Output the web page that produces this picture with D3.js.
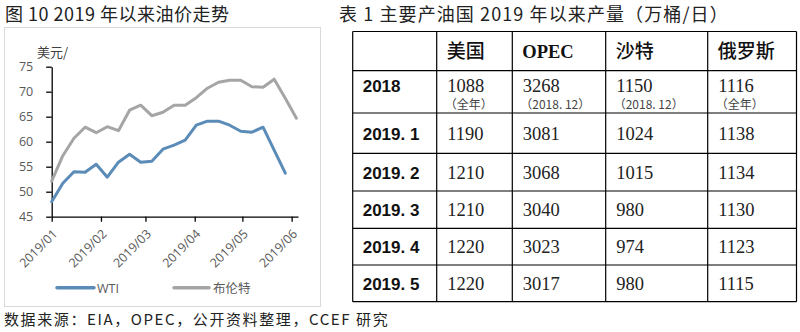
<!DOCTYPE html>
<html><head><meta charset="utf-8">
<script src="https://cdn.jsdelivr.net/npm/d3@7"></script>
<style>
html,body{margin:0;padding:0;background:#fff;}
svg{display:block;}
</style>
</head><body>
<svg id="c" width="800" height="332"></svg>
<script>
// ---------- data ----------
const weekDates = ["2019-01-01","2019-01-08","2019-01-15","2019-01-22","2019-01-29","2019-02-05","2019-02-12","2019-02-19","2019-02-26","2019-03-05","2019-03-12","2019-03-19","2019-03-26","2019-04-02","2019-04-09","2019-04-16","2019-04-23","2019-04-30","2019-05-07","2019-05-14","2019-05-21","2019-05-28","2019-06-04"];
const wti   = [48.0,51.7,54.0,53.9,55.5,52.9,55.9,57.5,55.9,56.1,58.5,59.3,60.3,63.3,64.1,64.1,63.3,62.1,61.9,62.9,58.3,53.7];
const brent = [52.1,57.2,60.7,62.9,61.8,63.0,62.2,66.3,67.3,65.2,65.9,67.3,67.3,68.8,70.7,71.9,72.3,72.3,71.0,70.9,72.5,68.7,64.7];
const yTicks = [45,50,55,60,65,70,75];
const xTickLabels = ["2019/01","2019/02","2019/03","2019/04","2019/05","2019/06"];
const seriesNames = ["WTI","布伦特"];

const tableCols = ["","美国","OPEC","沙特","俄罗斯"];
const tableRows = ["2018","2019. 1","2019. 2","2019. 3","2019. 4","2019. 5"];
const usProd    = [1088,1190,1210,1210,1220,1220];
const opecProd  = [3268,3081,3068,3040,3023,3017];
const saudiProd = [1150,1024,1015,980,974,980];
const russiaProd= [1116,1138,1134,1130,1123,1115];
const notes2018 = ["（全年）","（2018. 12）","（2018. 12）","（全年）"];

// ---------- layout ----------
const svg = d3.select("#c");
const parse = d3.timeParse("%Y-%m-%d");
const dates = weekDates.map(parse);
const CJK = "'Noto Sans CJK SC','Noto Sans',sans-serif";
const LAT = "'Open Sans','Noto Sans',sans-serif";

svg.append("rect").attr("width",800).attr("height",332).attr("fill","#fff");

// titles
svg.append("text").attr("x",5).attr("y",21).attr("font-family",CJK).attr("font-size",18)
  .attr("letter-spacing",0.5).attr("fill","#222").text("图 10 2019 年以来油价走势");
svg.append("text").attr("x",339).attr("y",21).attr("font-family",CJK).attr("font-size",18)
  .attr("letter-spacing",1.1).attr("fill","#222").text("表 1  主要产油国 2019 年以来产量（万桶/日）");

// chart frame
svg.append("rect").attr("x",4.5).attr("y",27.5).attr("width",316).attr("height",279)
  .attr("fill","none").attr("stroke","#d9d9d9");

const x = d3.scaleTime().domain([parse("2019-01-01"), parse("2019-06-05")]).range([51.7, 298]);
const y = d3.scaleLinear().domain([45,75]).range([216.7, 66.7]);

// y axis
const ya = svg.append("g").attr("transform","translate(51.7,0)")
  .call(d3.axisLeft(y).tickValues(yTicks).tickSize(5.5).tickPadding(13).tickSizeOuter(0));
ya.select(".domain").attr("stroke","#000").attr("stroke-width",1.3);
ya.selectAll(".tick line").attr("stroke","#000").attr("stroke-width",1.3);
ya.selectAll(".tick text").attr("font-family",LAT).attr("font-size",12.5).attr("fill","#595959");

// x axis
const monthTicks = xTickLabels.map(s => parse(s.replace("/","-")+"-01"));
const xa = svg.append("g").attr("transform","translate(0,216.7)")
  .call(d3.axisBottom(x).tickValues(monthTicks).tickSize(5).tickSizeOuter(0)
    .tickFormat((d,i)=>xTickLabels[i]));
xa.select(".domain").attr("stroke","#000").attr("stroke-width",1.3);
xa.selectAll(".tick line").attr("stroke","#000").attr("stroke-width",1.3);
xa.selectAll(".tick text").attr("font-family",LAT).attr("font-size",12.5).attr("fill","#595959")
  .attr("text-anchor","end").attr("dy",0).attr("y",0)
  .attr("transform","translate(6,18) rotate(-45)");

// unit
svg.append("text").attr("x",37).attr("y",57).attr("font-family",CJK).attr("font-size",13)
  .attr("fill","#404040").text("美元/");

// lines
const line = d3.line().x((d,i)=>x(dates[i])).y(d=>y(d)).curve(d3.curveLinear);
svg.append("path").datum(brent).attr("d",line).attr("fill","none")
  .attr("stroke","#a5a5a5").attr("stroke-width",3).attr("stroke-linejoin","round").attr("stroke-linecap","round");
svg.append("path").datum(wti).attr("d",line).attr("fill","none")
  .attr("stroke","#5b8cb8").attr("stroke-width",3).attr("stroke-linejoin","round").attr("stroke-linecap","round");

// legend
const legend = [{name:seriesNames[0],color:"#5b8cb8",x0:57,x1:94,tx:97},
                {name:seriesNames[1],color:"#a5a5a5",x0:174,x1:209,tx:213}];
legend.forEach(l=>{
  svg.append("line").attr("x1",l.x0).attr("x2",l.x1).attr("y1",287.7).attr("y2",287.7)
    .attr("stroke",l.color).attr("stroke-width",3.5).attr("stroke-linecap","round");
  svg.append("text").attr("x",l.tx).attr("y",292.5).attr("font-family",l.name==="WTI"?LAT:CJK)
    .attr("font-size",12.5).attr("fill","#595959").text(l.name);
});

// footnote
svg.append("text").attr("x",4).attr("y",325).attr("font-family","'Noto Sans CJK SC',sans-serif")
  .attr("font-size",15).attr("letter-spacing",1.6).attr("fill","#222")
  .text("数据来源：EIA，OPEC，公开资料整理，CCEF 研究");

// ---------- table ----------
const colEdges = [352.7,436.7,512.3,605.7,707.7,796.5];
const rowEdges = [31.5,70.7,113,153.3,191,228.3,265,301.7];
const tg = svg.append("g");
colEdges.forEach(cx=>tg.append("line").attr("x1",cx).attr("x2",cx).attr("y1",rowEdges[0]).attr("y2",rowEdges[rowEdges.length-1]).attr("stroke","#000").attr("stroke-width",1.2));
rowEdges.forEach(ry=>tg.append("line").attr("x1",colEdges[0]).attr("x2",colEdges[colEdges.length-1]).attr("y1",ry).attr("y2",ry).attr("stroke","#000").attr("stroke-width",1.2));

// header
tableCols.forEach((c,i)=>{
  if(!c) return;
  tg.append("text").attr("x",colEdges[i]+10).attr("y",57.5)
    .attr("font-family", c==="OPEC" ? "'Liberation Serif',serif" : CJK)
    .attr("font-size", c==="OPEC" ? 18.5 : 19).attr("font-weight", c==="OPEC"?"bold":500)
    .attr("fill","#111").text(c);
});
const cols = [usProd,opecProd,saudiProd,russiaProd];
tableRows.forEach((r,ri)=>{
  const top = rowEdges[ri+1], bot = rowEdges[ri+2];
  const base = ri===0 ? top+21.5 : (top+bot)/2+6.5;
  tg.append("text").attr("x",colEdges[0]+10).attr("y",base)
    .attr("font-family","'Liberation Sans',sans-serif").attr("font-weight","bold")
    .attr("font-size",17).attr("fill","#111").text(r);
  cols.forEach((arr,ci)=>{
    tg.append("text").attr("x",colEdges[ci+1]+10.5).attr("y",base)
      .attr("font-family","'Liberation Serif',serif").attr("font-size",18.5)
      .attr("fill","#222").text(arr[ri]);
    if(ri===0){
      tg.append("text").attr("x",colEdges[ci+1]+8).attr("y",top+38.5)
        .attr("font-family",CJK).attr("font-size",12).attr("fill","#444").text(notes2018[ci]);
    }
  });
});
</script>
</body></html>
